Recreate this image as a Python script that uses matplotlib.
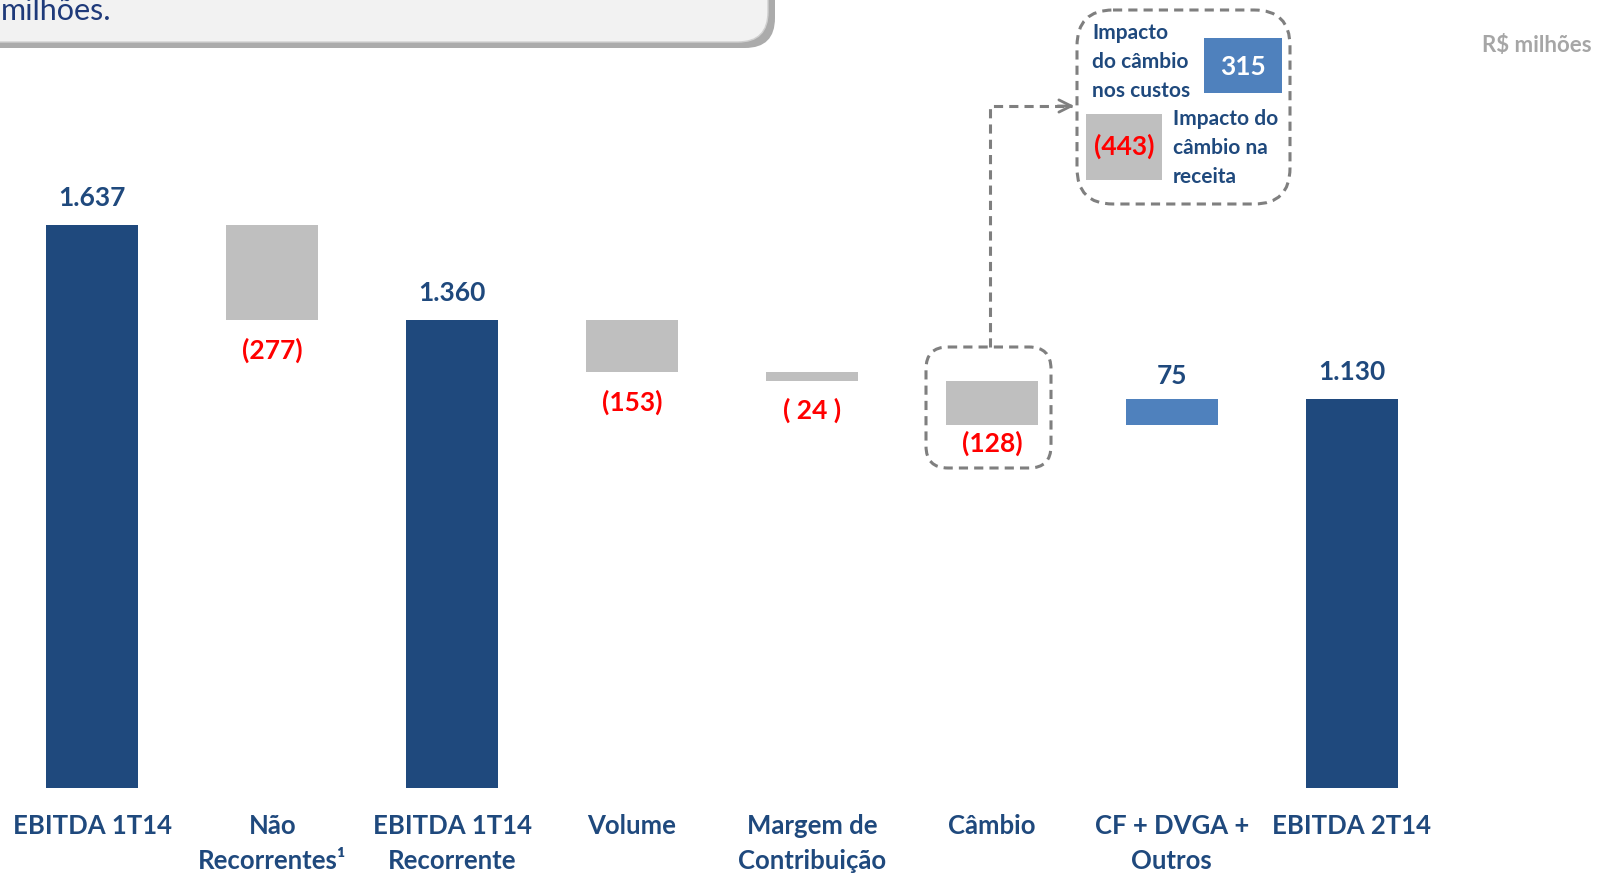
# EBITDA bridge 1T14 -> 2T14 (waterfall)
import numpy as np
import matplotlib.pyplot as plt
from matplotlib.patches import FancyBboxPatch, Rectangle
from matplotlib.transforms import blended_transform_factory

categories = ['EBITDA 1T14', 'Não\nRecorrentes¹', 'EBITDA 1T14\nRecorrente', 'Volume',
              'Margem de\nContribuição', 'Câmbio', 'CF + DVGA +\nOutros', 'EBITDA 2T14']
values = [1637, -277, 1360, -153, -24, -128, 75, 1130]
kinds = ['total', 'delta', 'total', 'delta', 'delta', 'delta', 'delta', 'total']
value_labels = ['1.637', '(277)', '1.360', '(153)', '( 24 )', '(128)', '75', '1.130']

fx_cost = 315
fx_revenue = -443

DARK = '#1f497d'
GRAY = '#bfbfbf'
LIGHT = '#4f81bd'
RED = '#ff0000'
FONT = ['Lato', 'DejaVu Sans']

W, H = 1608, 875
fig = plt.figure(figsize=(W / 100, H / 100), dpi=100)
ax = fig.add_axes([0, 0, 1, 1])
ax.axis('off')
ax.set_xlim(-0.513, 8.425)
ax.set_ylim(-254, 2290)

# running totals
bottoms, tops = [], []
level = 0
for v, k in zip(values, kinds):
    if k == 'total':
        b, t = 0, v
        level = v
    else:
        b, t = min(level, level + v), max(level, level + v)
        level += v
    bottoms.append(b)
    tops.append(t)

colors = []
for v, k in zip(values, kinds):
    if k == 'total':
        colors.append(DARK)
    elif v < 0:
        colors.append(GRAY)
    else:
        colors.append(LIGHT)

x = np.arange(len(categories))
heights = np.array(tops) - np.array(bottoms)
ax.bar(x, heights, bottom=bottoms, width=0.51, color=colors, zorder=2)

# value labels
for i, (v, k, lab) in enumerate(zip(values, kinds, value_labels)):
    if v >= 0:
        off = 27 if k == 'total' else 23
        ax.annotate(lab, (i, tops[i]), xytext=(0, off), textcoords='offset pixels',
                    ha='center', va='center', color=DARK, fontsize=19,
                    fontweight='bold', family=FONT)
    else:
        off = 19 if i == 5 else 30
        ax.annotate(lab, (i, bottoms[i]), xytext=(0, -off), textcoords='offset pixels',
                    ha='center', va='center', color=RED, fontsize=19,
                    fontweight='bold', family=FONT)

# category labels
tr = blended_transform_factory(ax.transData, ax.transAxes)
for i, cat in enumerate(categories):
    for j, line in enumerate(cat.split('\n')):
        ax.text(i, 1 - (826 + 35 * j) / H, line, transform=tr, ha='center', va='center',
                color=DARK, fontsize=18.5, fontweight='bold', family=FONT)

# overlay in pixel coordinates for decorations
ov = fig.add_axes([0, 0, 1, 1])
ov.set_xlim(0, W)
ov.set_ylim(H, 0)
ov.axis('off')

# header box (cut off at top)
ov.add_patch(FancyBboxPatch((-40, -80), 815, 128, boxstyle='round,pad=0,rounding_size=30',
                            fc='#ababab', ec='none', zorder=1))
ov.add_patch(FancyBboxPatch((-40, -86), 808, 128, boxstyle='round,pad=0,rounding_size=30',
                            fc='#f2f2f2', ec='#d0d0d0', lw=1, zorder=2))
ov.text(1, 11, 'milhões.', ha='left', va='center', color='#1f3a7a', fontsize=22,
        family=['Lato', 'DejaVu Sans'], zorder=3)

ov.text(1592, 45, 'R$ milhões', ha='right', va='center', color='#a6a6a6', fontsize=16,
        fontweight='bold', family=FONT)

dash = dict(fc='none', ec='#7f7f7f', lw=2.2, ls=(0, (3, 2)))

# box around the Câmbio bar
ov.add_patch(FancyBboxPatch((926, 347), 125, 121, boxstyle='round,pad=0,rounding_size=22', **dash))

# connector to inset
ov.plot([990, 990, 1072], [347, 106, 106], color='#7f7f7f', lw=2.2, ls=(0, (3, 2)))
ov.annotate('', xy=(1077, 106), xytext=(1055, 106),
            arrowprops=dict(arrowstyle='->', color='#7f7f7f', lw=2, mutation_scale=22))

# inset box with breakdown of Câmbio
ov.add_patch(FancyBboxPatch((1077, 10), 213, 194, boxstyle='round,pad=0,rounding_size=36', **dash))
ov.add_patch(Rectangle((1204, 38), 78, 55, fc=LIGHT, ec='none'))
ov.text(1243, 67, str(fx_cost), ha='center', va='center', color='white', fontsize=19,
        fontweight='bold', family=FONT)
ov.add_patch(Rectangle((1086, 114), 76, 66, fc=GRAY, ec='none'))
ov.text(1124, 146, '(%d)' % abs(fx_revenue), ha='center', va='center', color=RED, fontsize=19,
        fontweight='bold', family=FONT)
for j, line in enumerate(['Impacto', 'do câmbio', 'nos custos']):
    ov.text(1092, 33 + 29 * j, line, ha='left', va='center', color=DARK, fontsize=15,
            fontweight='bold', family=FONT)
for j, line in enumerate(['Impacto do', 'câmbio na', 'receita']):
    ov.text(1173, 119 + 29 * j, line, ha='left', va='center', color=DARK, fontsize=15,
            fontweight='bold', family=FONT)

fig.savefig('out.png', dpi=100)
